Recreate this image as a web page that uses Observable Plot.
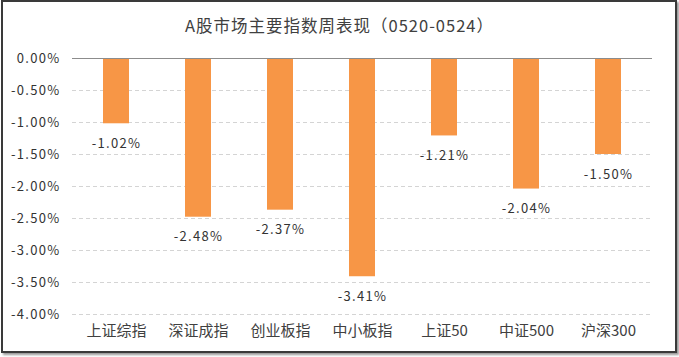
<!DOCTYPE html>
<html><head><meta charset="utf-8">
<script src="https://cdn.jsdelivr.net/npm/d3@7"></script>
<script src="https://cdn.jsdelivr.net/npm/@observablehq/plot@0.6"></script>
<style>
body{margin:0;background:#fff;}
#wrap{position:relative;width:679px;height:357px;overflow:hidden;font-family:"Noto Sans CJK SC",sans-serif;}
#frame{position:absolute;left:1px;top:0px;width:672px;height:349px;border:2px solid #3a3a3a;box-shadow:2px 2px 2px #9a9a9a;pointer-events:none;}
#title{position:absolute;left:0;top:13px;width:679px;text-align:center;font-size:16.5px;letter-spacing:1px;color:#404040;}
#chart{position:absolute;left:0;top:40px;}
.num{letter-spacing:1.3px;}
</style></head>
<body>
<div id="wrap"><div id="title">A股市场主要指数周表现（0520-0524）</div><div id="chart"></div><div id="frame"></div></div>
<script>
const categories = ["上证综指","深证成指","创业板指","中小板指","上证50","中证500","沪深300"];
const values = [-1.02,-2.48,-2.37,-3.41,-1.21,-2.04,-1.50];
const yTicks = [0,-0.5,-1,-1.5,-2,-2.5,-3,-3.5,-4];

const data = categories.map((c,i)=>({cat:c, v:values[i]}));
const fmt = d => d.toFixed(2) + "%";

const plot = Plot.plot({
  width: 679, height: 317,
  marginTop: 18, marginBottom: 43, marginLeft: 72, marginRight: 27,
  style: {fontFamily: '"Noto Sans CJK SC", sans-serif', fontSize: "12.5px", color: "#404040", background: "transparent"},
  x: {domain: categories, paddingInner: 0.686, paddingOuter: 0.343, label: null},
  y: {domain: [-4, 0], label: null},
  marks: [
    Plot.ruleY(yTicks.filter(t => t !== 0), {stroke: "#d4d4d4", strokeDasharray: "4,3"}),
    Plot.barY(data, {x: "cat", y: "v", fill: "#F79646"}),
    Plot.ruleY([0], {stroke: "#8c8c8c", strokeWidth: 1.2}),
    Plot.text(data, {x: "cat", y: "v", text: d => fmt(d.v), dy: 20, fill: "#333", fontSize: 13, className: "num"}),
    Plot.axisY({ticks: yTicks, tickFormat: fmt, tickSize: 0, tickPadding: 12, fontSize: 13, fill: "#333", className: "num"}),
    Plot.axisX({tickSize: 0, tickPadding: 11, fontSize: 15, fill: "#404040"})
  ]
});
document.getElementById("chart").appendChild(plot);
</script>
</body></html>
